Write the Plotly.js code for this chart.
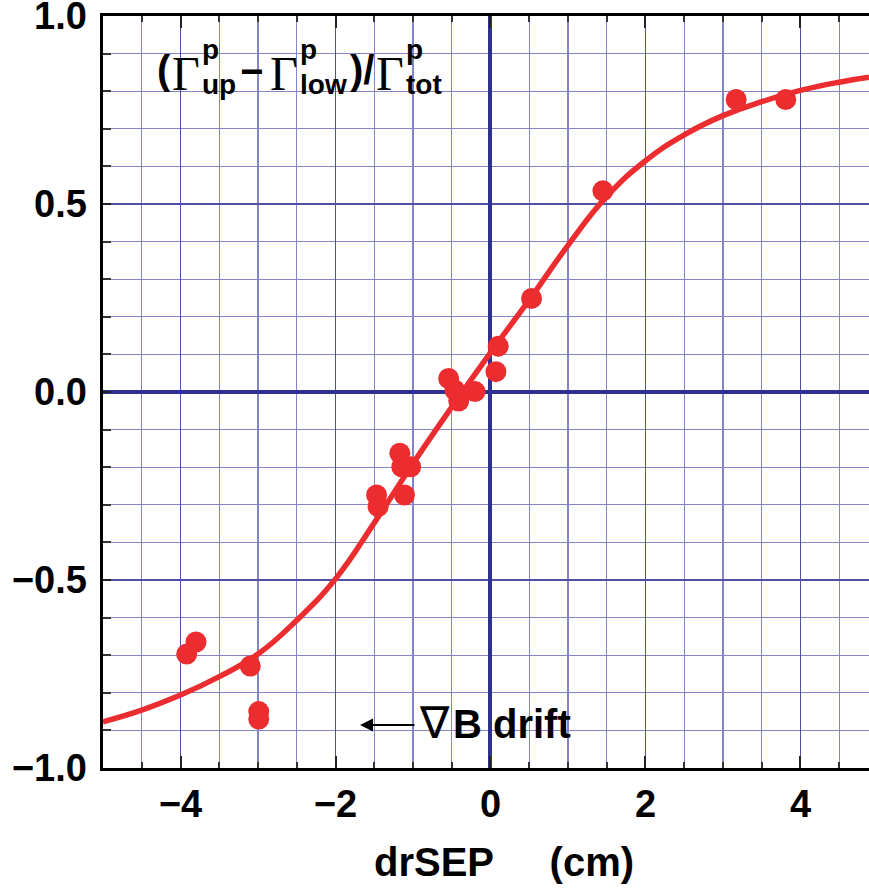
<!DOCTYPE html>
<html>
<head>
<meta charset="utf-8">
<script src="https://cdn.plot.ly/plotly-3.0.1.min.js"></script>
<style>html,body{margin:0;padding:0;background:#fff;}#chart{width:869px;height:888px;}</style>
</head>
<body>
<div id="chart"></div>
<script>
// Measured data points: drSEP (cm) vs (Γup − Γlow)/Γtot
const pointX = [-3.92, -3.80, -3.10, -2.99, -2.99, -1.47, -1.45, -1.11, -1.17, -1.145, -1.03,
                -0.54, -0.46, -0.41, -0.20, 0.10, 0.07, 0.53, 1.45, 3.17, 3.81];
const pointY = [-0.697, -0.665, -0.729, -0.850, -0.870, -0.274, -0.305, -0.274, -0.163, -0.199, -0.199,
                0.036, 0.005, -0.024, 0.001, 0.122, 0.054, 0.249, 0.535, 0.778, 0.778];

// Fitted curve
const fitX = [-5, -4.5, -4, -3.5, -3, -2.5, -2, -1.5, -1, -0.5, 0, 0.5, 1, 1.5, 2, 2.5, 3, 3.5, 4, 4.5, 4.884];
const fitY = [-0.877, -0.846, -0.806, -0.757, -0.697, -0.607, -0.497, -0.348, -0.190, -0.040, 0.105, 0.245, 0.390, 0.520, 0.615, 0.684, 0.735, 0.772, 0.802, 0.824, 0.837];

const xTitle = 'drSEP\u00a0\u00a0\u00a0\u00a0\u00a0(cm)';

const RED = '#ec2d2f';
const NAVY = '#2e3192';
const GRID = '#8584c6';
const MAJ = '#4f4fa6';
const SANS = "'Liberation Sans', Arial, Helvetica, sans-serif";
const SERIF = "'Liberation Serif', 'DejaVu Serif', serif";

// plot area geometry (pixels) for placing text labels
const L = 103, T = 16, W = 766, H = 752;
function px(x) { return (x - L) / W; }
function py(y) { return (T + H - y) / H; }

function lab(text, x, y, size, family, bold, xanchor) {
  return {
    xref: 'paper', yref: 'paper', x: px(x), y: py(y),
    xanchor: xanchor || 'left', yanchor: 'middle', showarrow: false, text: text,
    font: {family: family, size: size, color: '#000', weight: bold ? 'bold' : 'normal'}
  };
}

const annotations = [
  lab('(', 155, 70, 40, SANS, true),
  lab('\u0393', 170, 73, 48, SERIF, false),
  lab('p', 200, 49, 28, SANS, true),
  lab('up', 200, 84, 28, SANS, true),
  lab('\u2212', 238, 71, 40, SANS, true),
  lab('\u0393', 268, 73, 48, SERIF, false),
  lab('p', 298, 49, 28, SANS, true),
  lab('low', 298, 84, 28, SANS, true),
  lab(')/', 348, 70, 40, SANS, true),
  lab('\u0393', 374, 73, 48, SERIF, false),
  lab('p', 404, 49, 28, SANS, true),
  lab('tot', 404, 84, 28, SANS, true),
  lab('\u2207', 417, 722, 44, "'DejaVu Sans', sans-serif", false),
  lab('B drift', 451, 724, 40, SANS, true),
  lab(xTitle, 504, 862, 40, SANS, true, 'center'),
  {
    xref: 'paper', yref: 'paper', x: px(360), y: py(725),
    ax: 56, ay: 0, axref: 'pixel', ayref: 'pixel',
    text: '', showarrow: true, arrowhead: 2, arrowsize: 1.3, arrowwidth: 2,
    arrowcolor: '#000', standoff: 0, startstandoff: 0
  }
];

const data = [
  {x: fitX, y: fitY, type: 'scatter', mode: 'lines', line: {color: RED, width: 5.5, shape: 'spline', smoothing: 1.3}, hoverinfo: 'skip'},
  {x: pointX, y: pointY, type: 'scatter', mode: 'markers', marker: {color: RED, size: 21, line: {width: 0}}}
];

const layout = {
  width: 869, height: 888,
  margin: {l: 103, r: 0, t: 16, b: 120, pad: 0},
  paper_bgcolor: '#fff', plot_bgcolor: '#fff',
  showlegend: false,
  font: {family: SANS, color: '#000'},
  xaxis: {
    range: [-5, 4.884], tick0: 0, dtick: 2,
    ticks: 'inside', ticklen: 12, tickwidth: 2, tickcolor: '#222',
    showline: true, linewidth: 3, linecolor: '#000', mirror: 'ticks',
    showgrid: true, gridcolor: MAJ, gridwidth: 1.5,
    zeroline: true, zerolinecolor: NAVY, zerolinewidth: 4,
    minor: {dtick: 0.5, ticks: 'inside', ticklen: 6, tickwidth: 2, tickcolor: '#333', showgrid: true, gridcolor: GRID, gridwidth: 1.2},
    tickfont: {family: SANS, size: 38, weight: 'bold', color: '#000'},
    ticklabelstandoff: 0, ticklabeloverflow: 'allow'
  },
  yaxis: {
    range: [-1, 1], tick0: 0, dtick: 0.5, tickformat: '.1f',
    ticks: 'inside', ticklen: 8, tickwidth: 2, tickcolor: '#222',
    showline: true, linewidth: 3.5, linecolor: '#000', mirror: false,
    showgrid: true, gridcolor: MAJ, gridwidth: 1.5,
    zeroline: true, zerolinecolor: NAVY, zerolinewidth: 4,
    minor: {dtick: 0.1, ticks: 'inside', ticklen: 8, tickwidth: 2, tickcolor: '#333', showgrid: true, gridcolor: GRID, gridwidth: 1.2},
    tickfont: {family: SANS, size: 38, weight: 'bold', color: '#000'},
    ticklabelstandoff: 5, ticklabeloverflow: 'allow'
  },
  annotations: annotations
};

Plotly.newPlot('chart', data, layout, {displayModeBar: false, staticPlot: true});
</script>
</body>
</html>
